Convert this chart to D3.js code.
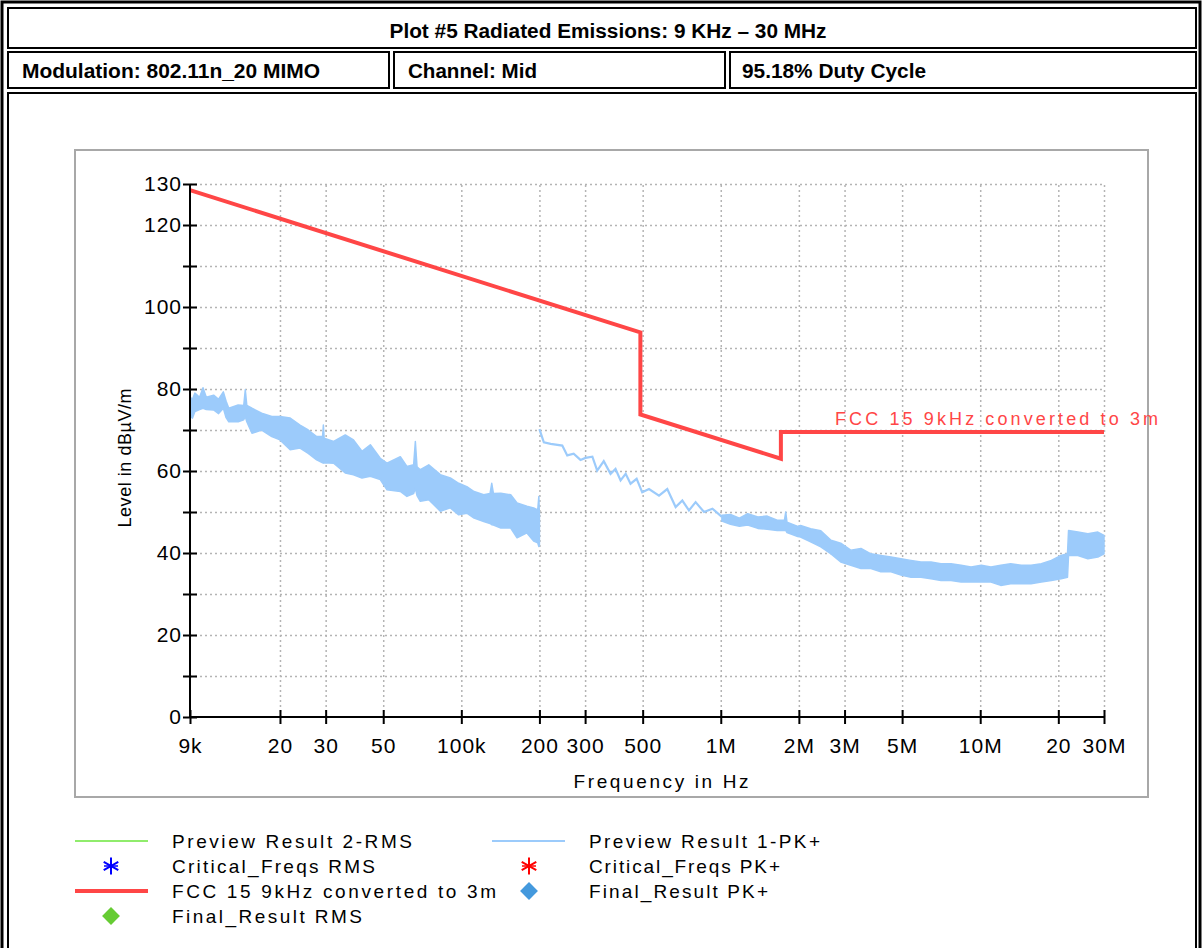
<!DOCTYPE html>
<html><head><meta charset="utf-8">
<script src="https://cdn.jsdelivr.net/npm/d3@7"></script>
<style>
html,body{margin:0;padding:0;background:#fff;overflow:hidden}
svg{display:block}
text{font-family:"Liberation Sans",Arial,sans-serif}
</style></head><body>
<svg id="c" width="1204" height="948"></svg>
<script>
// ---------- data ----------
const headerTitle = "Plot #5 Radiated Emissions: 9 KHz \u2013 30 MHz";
const headerCells = ["Modulation: 802.11n_20 MIMO", "Channel: Mid", "95.18% Duty Cycle"];

const xTickValues = [9e3, 2e4, 3e4, 5e4, 1e5, 2e5, 3e5, 5e5, 1e6, 2e6, 3e6, 5e6, 1e7, 2e7, 3e7];
const xTickLabels = ["9k", "20", "30", "50", "100k", "200", "300", "500", "1M", "2M", "3M", "5M", "10M", "20", "30M"];
const yTickValues = [0, 10, 20, 30, 40, 50, 60, 70, 80, 90, 100, 110, 120, 130];
const yTickLabels = ["0", "", "20", "", "40", "", "60", "", "80", "", "100", "", "120", "130"];

// FCC 15 limit (converted to 3 m)
const limitFreq  = [9e3, 4.9e5, 4.9e5, 1.705e6, 1.705e6, 3e7];
const limitLevel = [128.5, 93.8, 73.8, 63.0, 69.5, 69.5];

// Preview Result 1-PK+ : 9 kHz - 200 kHz sweep (dense trace, upper / lower extent)
const pkAFreq = [9.0e3, 9.2e3, 9.4e3, 9.8e3, 10.1e3, 10.4e3, 11.1e3, 11.6e3, 12.1e3, 12.4e3, 12.7e3, 13.8e3, 14.5e3, 14.7e3, 14.9e3, 15.6e3, 17.0e3, 18.6e3, 20.0e3, 21.9e3, 23.9e3, 25.7e3, 27.7e3, 29.2e3, 29.4e3, 29.6e3, 32.2e3, 35.7e3, 38.4e3, 41.4e3, 44.6e3, 48.7e3, 51.7e3, 58.2e3, 61.7e3, 65.5e3, 66.5e3, 67.5e3, 69.5e3, 74.9e3, 83.0e3, 90.7e3, 97.7e3, 105e3, 112e3, 122e3, 129e3, 131e3, 133e3, 142e3, 155e3, 164e3, 179e3, 190e3, 197e3, 199e3, 200e3];
const pkAHi   = [78.0, 77.5, 79.0, 78.0, 80.3, 78.0, 78.5, 77.5, 79.3, 77.0, 75.3, 76.1, 76.0, 79.8, 76.0, 75.3, 74.1, 73.3, 73.3, 72.9, 71.2, 70.0, 68.4, 68.5, 71.2, 68.0, 67.2, 68.8, 67.6, 64.8, 66.4, 63.1, 61.9, 63.5, 61.1, 61.5, 67.2, 61.0, 60.3, 61.5, 59.1, 58.3, 57.0, 56.2, 55.0, 54.2, 54.5, 57.0, 54.5, 54.6, 54.2, 52.2, 51.4, 51.0, 50.5, 53.8, 49.3];
const pkALo   = [73.5, 72.9, 74.5, 75.0, 75.3, 75.0, 74.9, 74.0, 75.3, 73.0, 72.0, 72.0, 72.5, 73.3, 72.0, 69.2, 70.0, 68.4, 67.6, 65.2, 65.6, 64.3, 62.7, 62.0, 61.9, 62.0, 61.9, 59.5, 59.1, 58.3, 58.7, 57.9, 55.4, 55.0, 53.8, 54.5, 55.8, 54.0, 52.6, 53.0, 50.2, 51.0, 49.3, 49.7, 48.5, 47.7, 47.2, 46.9, 46.8, 46.1, 46.1, 43.7, 44.9, 42.9, 42.5, 41.6, 42.0];

// Preview Result 1-PK+ : 200 kHz - 1 MHz sweep (single trace)
const pkLineFreq  = [200e3, 208e3, 221e3, 245e3, 256e3, 271e3, 288e3, 301e3, 320e3, 334e3, 354e3, 376e3, 393e3, 411e3, 430e3, 449e3, 474e3, 498e3, 529e3, 578e3, 622e3, 670e3, 711e3, 754e3, 800e3, 862e3, 929e3, 1.01e6];
const pkLineLevel = [70.2, 67.0, 66.6, 66.2, 63.8, 64.2, 62.7, 63.2, 63.5, 60.1, 62.4, 59.3, 60.5, 57.7, 59.3, 56.9, 58.1, 54.8, 55.6, 54.0, 55.6, 51.2, 52.8, 50.4, 52.4, 50.0, 50.8, 48.8];

// Preview Result 1-PK+ : 1 MHz - 30 MHz (dense trace, upper / lower extent)
const pkBFreq = [1.01e6, 1.09e6, 1.18e6, 1.27e6, 1.39e6, 1.51e6, 1.65e6, 1.76e6, 1.78e6, 1.80e6, 1.98e6, 2.03e6, 2.22e6, 2.43e6, 2.66e6, 2.90e6, 3.17e6, 3.47e6, 3.79e6, 4.14e6, 4.53e6, 4.95e6, 5.41e6, 5.91e6, 6.46e6, 7.06e6, 7.72e6, 8.44e6, 9.22e6, 10.1e6, 11.0e6, 12.0e6, 13.1e6, 14.4e6, 15.7e6, 17.2e6, 18.8e6, 20.5e6, 21.7e6, 21.9e6, 23.8e6, 26.0e6, 28.4e6, 30e6];
const pkBHi   = [49.2, 49.4, 48.5, 49.6, 48.8, 49.0, 48.0, 48.0, 50.0, 47.5, 46.5, 46.7, 45.9, 45.4, 43.1, 42.4, 40.7, 41.1, 39.8, 39.4, 39.0, 38.6, 38.2, 37.8, 37.8, 37.4, 37.4, 37.0, 36.6, 37.0, 36.6, 37.0, 37.4, 37.0, 37.0, 37.4, 38.2, 39.4, 39.8, 45.5, 45.1, 44.7, 45.1, 44.3];
const pkBLo   = [47.8, 47.0, 46.5, 46.8, 46.0, 45.8, 45.5, 45.5, 45.5, 45.0, 44.0, 43.9, 42.7, 41.5, 39.8, 37.8, 37.0, 36.2, 36.2, 35.4, 35.4, 34.6, 34.1, 34.1, 33.7, 33.3, 33.3, 32.9, 32.9, 32.9, 32.9, 32.1, 32.5, 32.5, 32.5, 32.9, 33.3, 33.7, 34.1, 39.4, 39.4, 38.6, 39.0, 39.8];

const limitLabel = "FCC 15 9kHz converted to 3m";
const legendLeft  = ["Preview Result 2-RMS", "Critical_Freqs RMS", "FCC 15 9kHz converted to 3m", "Final_Result RMS"];
const legendRight = ["Preview Result 1-PK+", "Critical_Freqs PK+", "Final_Result PK+"];

// ---------- drawing ----------
const svg = d3.select("#c");
const C = {red: "#ff4646", blue: "#9ccbfb", grid: "#b4b4b4"};

// header table
const tbl = svg.append("g");
tbl.append("rect").attr("x", 2).attr("y", 2).attr("width", 1198).attr("height", 960)
  .attr("fill", "none").attr("stroke", "#000").attr("stroke-width", 3);
const cells = [[8, 8, 1188, 40], [8, 52, 381, 36], [394, 52, 331, 36], [730, 52, 466, 36], [8, 93, 1188, 870]];
cells.forEach(c => tbl.append("rect").attr("x", c[0]).attr("y", c[1]).attr("width", c[2]).attr("height", c[3])
  .attr("fill", "none").attr("stroke", "#000").attr("stroke-width", 2));
tbl.append("text").attr("x", 608).attr("y", 38).attr("text-anchor", "middle")
  .attr("font-size", 20).attr("font-weight", "bold").attr("textLength", 437).attr("lengthAdjust", "spacingAndGlyphs")
  .text(headerTitle);
const hx = [22, 408, 742], hw = [298, 129, 184];
headerCells.forEach((t, i) => tbl.append("text").attr("x", hx[i]).attr("y", 78)
  .attr("font-size", 20).attr("font-weight", "bold").attr("textLength", hw[i]).attr("lengthAdjust", "spacingAndGlyphs")
  .text(t));

// chart frame
svg.append("rect").attr("x", 75).attr("y", 150).attr("width", 1073).attr("height", 647)
  .attr("fill", "#fff").attr("stroke", "#a8a8a8").attr("stroke-width", 2);

const x = d3.scaleLog().domain([9e3, 3e7]).range([190, 1104]);
const y = d3.scaleLinear().domain([0, 130]).range([717, 184]);

// grid
const gy = svg.append("g").attr("transform", "translate(190,0)")
  .call(d3.axisLeft(y).tickValues(yTickValues.filter(v => v > 0)).tickSize(-914).tickFormat(""));
const gx = svg.append("g").attr("transform", "translate(0,717)")
  .call(d3.axisBottom(x).tickValues(xTickValues.slice(1)).tickSize(-533).tickFormat(""));
[gy, gx].forEach(g => {
  g.select(".domain").remove();
  g.selectAll(".tick line").attr("stroke", C.grid).attr("stroke-width", 1.5).attr("stroke-dasharray", "2,3");
});

// data traces
const area = d3.area().x(d => x(d[0])).y0(d => y(d[2])).y1(d => y(d[1]));
const line = d3.line().x(d => x(d[0])).y(d => y(d[1]));
const bandA = pkAFreq.map((f, i) => [f, pkAHi[i], pkALo[i]]);
const bandB = pkBFreq.map((f, i) => [f, pkBHi[i], pkBLo[i]]);
[bandA, bandB].forEach(b => {
  svg.append("path").datum(b).attr("d", area).attr("fill", C.blue).attr("stroke", C.blue)
    .attr("stroke-width", 1.5).attr("stroke-linejoin", "round");
});
svg.append("path").datum(pkLineFreq.map((f, i) => [f, pkLineLevel[i]])).attr("d", line)
  .attr("fill", "none").attr("stroke", C.blue).attr("stroke-width", 2.2);

// limit line
svg.append("path").datum(limitFreq.map((f, i) => [f, limitLevel[i]])).attr("d", line)
  .attr("fill", "none").attr("stroke", C.red).attr("stroke-width", 4);
svg.append("text").attr("x", 835).attr("y", 425).attr("font-size", 18).attr("fill", C.red)
  .attr("textLength", 323).attr("lengthAdjust", "spacing").text(limitLabel);

// axes
const ya = svg.append("g").attr("transform", "translate(190,0)")
  .call(d3.axisLeft(y).tickValues(yTickValues).tickSize(6).tickPadding(2)
    .tickFormat((d, i) => yTickLabels[i]));
ya.selectAll(".tick line").attr("x1", 7).attr("x2", -7);
const xa = svg.append("g").attr("transform", "translate(0,717)")
  .call(d3.axisBottom(x).tickValues(xTickValues).tickSize(6).tickPadding(15)
    .tickFormat((d, i) => xTickLabels[i]));
xa.selectAll(".tick line").attr("y1", -7).attr("y2", 7);
[ya, xa].forEach(g => {
  g.select(".domain").attr("stroke", "#000").attr("stroke-width", 2);
  g.selectAll(".tick line").attr("stroke", "#000").attr("stroke-width", 2);
  g.selectAll(".tick text").attr("font-family", "Liberation Sans").attr("font-size", 21)
    .attr("letter-spacing", 1).attr("fill", "#000");
});
xa.select(".domain").attr("d", "M190,0H1104");
ya.select(".domain").attr("d", "M0,717V184");

// axis titles
svg.append("text").attr("transform", "translate(131,458) rotate(-90)").attr("text-anchor", "middle")
  .attr("font-size", 18).attr("textLength", 139).attr("lengthAdjust", "spacing").text("Level in dB\u00b5V/m");
svg.append("text").attr("x", 661).attr("y", 788).attr("text-anchor", "middle")
  .attr("font-size", 19).attr("textLength", 175).attr("lengthAdjust", "spacing").text("Frequency in Hz");

// legend
const lg = svg.append("g");
const rowY = [841, 866, 891, 916];
const lw = [240, 203, 324, 190], rw = [231, 191, 179];
legendLeft.forEach((t, i) => lg.append("text").attr("x", 172).attr("y", rowY[i]).attr("dy", "0.36em")
  .attr("font-size", 19).attr("textLength", lw[i]).attr("lengthAdjust", "spacing").text(t));
legendRight.forEach((t, i) => lg.append("text").attr("x", 589).attr("y", rowY[i]).attr("dy", "0.36em")
  .attr("font-size", 19).attr("textLength", rw[i]).attr("lengthAdjust", "spacing").text(t));
lg.append("line").attr("x1", 75).attr("x2", 148).attr("y1", 841).attr("y2", 841).attr("stroke", "#90ec6c").attr("stroke-width", 2);
lg.append("line").attr("x1", 492).attr("x2", 565).attr("y1", 841).attr("y2", 841).attr("stroke", C.blue).attr("stroke-width", 2);
lg.append("line").attr("x1", 75).attr("x2", 148).attr("y1", 891).attr("y2", 891).attr("stroke", C.red).attr("stroke-width", 4);
const ast = d3.symbol(d3.symbolAsterisk, 200);
const astH = "M-7,0H7";
[[111, "#0000ff"], [529, "#ff0000"]].forEach(([cx, col]) => {
  lg.append("path").attr("d", ast).attr("transform", `translate(${cx},866)`).attr("fill", "none").attr("stroke", col).attr("stroke-width", 2);
  lg.append("path").attr("d", astH).attr("transform", `translate(${cx},866)`).attr("fill", "none").attr("stroke", col).attr("stroke-width", 1.5);
});
const dia = d3.symbol(d3.symbolSquare, 160);
lg.append("path").attr("d", dia).attr("transform", "translate(529,891) rotate(45)").attr("fill", "#4499dd");
lg.append("path").attr("d", dia).attr("transform", "translate(111,916) rotate(45)").attr("fill", "#66cc33");
</script>
</body></html>
